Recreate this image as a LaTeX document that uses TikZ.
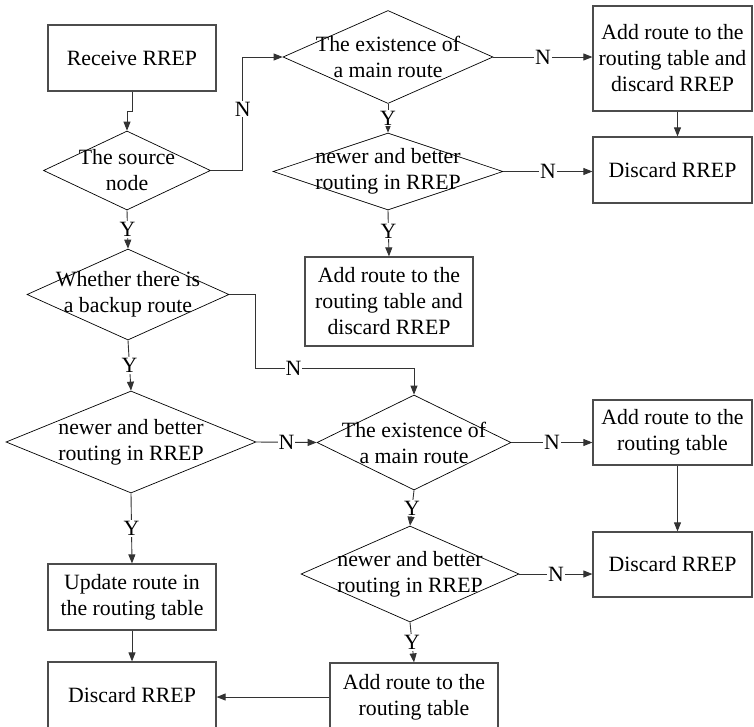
\documentclass[tikz,border=0pt]{standalone}
\usepackage{fontspec}
\setmainfont{Liberation Serif}
\usetikzlibrary{shapes.geometric,arrows.meta,calc}
\begin{document}
\begin{tikzpicture}[x=1pt,y=-1pt,
  every node/.style={font=\fontsize{21.8}{26}\selectfont},
  box/.style={draw=black!70, line width=1.2pt, rectangle, inner sep=0pt, align=center},
  dia/.style={draw=black, line width=0.7pt, diamond, inner sep=0pt},
  txt/.style={align=center, inner sep=0pt},
  lab/.style={fill=white, inner sep=1pt},
  conn/.style={draw=black!80, line width=0.9pt},
  arr/.style={conn, -{Triangle[length=9pt,width=7pt]}}]
\useasboundingbox (0,0) rectangle (754,726);

% boxes
\node[box, minimum width=168pt, minimum height=66pt] (B1) at (132,58) {Receive RREP};
\node[box, minimum width=159pt, minimum height=105pt] (B2) at (672.5,58.5) {Add route to the\\routing table and\\discard RREP};
\node[box, minimum width=159pt, minimum height=66pt] (B3) at (672.5,170) {Discard RREP};
\node[box, minimum width=168pt, minimum height=89pt] (B4) at (389,301.5) {Add route to the\\routing table and\\discard RREP};
\node[box, minimum width=159pt, minimum height=65pt] (B5) at (672.5,432.5) {Add route to the\\routing table};
\node[box, minimum width=159pt, minimum height=65pt] (B6) at (672.5,564.5) {Discard RREP};
\node[box, minimum width=168pt, minimum height=66pt] (B7) at (132,597) {Update route in\\the routing table};
\node[box, minimum width=168pt, minimum height=66pt] (B8) at (132,695) {Discard RREP};
\node[box, minimum width=168pt, minimum height=68pt] (B9) at (414,697) {Add route to the\\routing table};

% diamonds
\node[dia, minimum width=167pt, minimum height=79pt] (D1) at (127,170.5) {};
\node[dia, minimum width=210pt, minimum height=93pt] (D2) at (388,57) {};
\node[dia, minimum width=230pt, minimum height=77pt] (D3) at (388,171.5) {};
\node[dia, minimum width=202pt, minimum height=91pt] (D4) at (128,294.5) {};
\node[dia, minimum width=250pt, minimum height=102pt] (D5) at (131,442) {};
\node[dia, minimum width=194pt, minimum height=95pt] (D6) at (414,442.5) {};
\node[dia, minimum width=218pt, minimum height=96pt] (D7) at (410,574) {};

\node[txt] (T1) at (D1) {The source\\node};
\node[txt] (T2) at (D2) {The existence of\\a main route};
\node[txt] (T3) at (D3) {newer and better\\routing in RREP};
\node[txt] (T4) at (D4) {Whether there is\\a backup route};
\node[txt] (T5) at (D5) {newer and better\\routing in RREP};
\node[txt] (T6) at (D6) {The existence of\\a main route};
\node[txt] (T7) at (D7) {newer and better\\routing in RREP};

% connectors
\draw[arr] (B1.south) -- ++(0,20) -| (D1.north);
\draw[arr] (D1.east) -- ++(32,0) |- node[lab,pos=0.27] (N1) {N} (D2.west);
\draw[arr] (D2.east) -- node[lab] (N2) {N} (D2.east -| B2.west);
\draw[arr] (D2.south) -- node[lab] (Y2) {Y} (D3.north);
\draw[arr] (D3.east) -- node[lab] (N3) {N} (D3.east -| B3.west);
\draw[arr] (D3.south) -- node[lab,pos=0.45] (Y3) {Y} (B4.north);
\draw[arr] ([xshift=5pt]B2.south) -- ([xshift=5pt]B3.north);
\draw[arr] (D1.south) -- node[lab] (Y1) {Y} (D4.north);
\draw[arr] (D4.east) -- ++(26,0) |- node[lab,pos=0.62] (N4) {N} ($(D6.north)+(0,-26)$) -- (D6.north);
\draw[arr] (D4.south) -- node[lab] (Y4) {Y} (D5.north);
\draw[arr] (D5.east) -- node[lab] (N5) {N} (D6.west);
\draw[arr] (D5.south) -- node[lab] (Y5) {Y} (B7.north);
\draw[arr] (D6.east) -- node[lab] (N6) {N} (D6.east -| B5.west);
\draw[arr] ([xshift=5pt]B5.south) -- ([xshift=5pt]B6.north);
\draw[arr] (D6.south) -- node[lab] (Y6) {Y} (D7.north);
\draw[arr] (D7.east) -- node[lab] (N7) {N} (D7.east -| B6.west);
\draw[arr] (D7.south) -- node[lab] (Y7) {Y} (B9.north);
\draw[arr] (B7.south) -- (B8.north);
\draw[arr] (B9.west) -- (B9.west -| B8.east);
\end{tikzpicture}
\end{document}
